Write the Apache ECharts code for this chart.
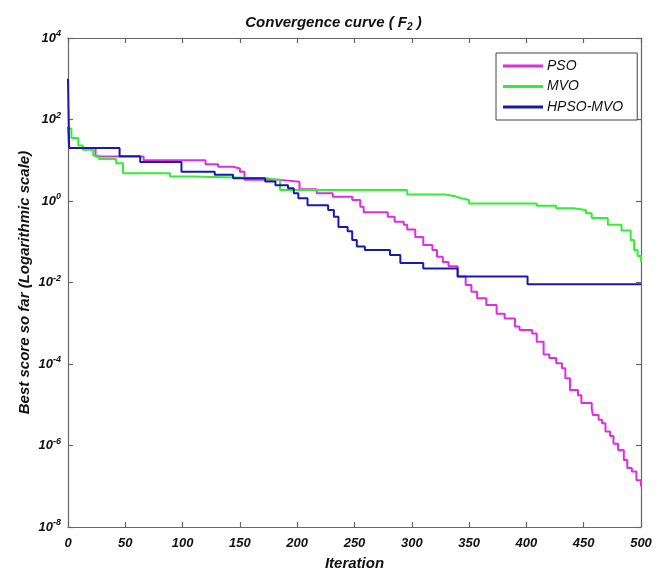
<!DOCTYPE html>
<html>
<head>
<meta charset="utf-8">
<script src="https://cdn.jsdelivr.net/npm/echarts@6/dist/echarts.min.js"></script>
<style>html,body{margin:0;padding:0;background:#fff}#c{width:667px;height:571px}</style>
</head>
<body>
<div id="c"></div>
<script>
// ---- Data ----
const seriesNames = ['PSO', 'MVO', 'HPSO-MVO'];
const xTicks = [0, 50, 100, 150, 200, 250, 300, 350, 400, 450, 500];
const yTickExponents = [-8, -6, -4, -2, 0, 2, 4];

// PSO: breakpoints (iteration where a new best value starts) and values
const psoIter = [0, 1, 24, 66, 120, 131, 144, 150, 154, 185, 202, 217, 231, 248, 255, 258, 279, 285, 293, 296, 303, 310, 318, 322, 327, 332, 340, 347, 352, 357, 365, 374, 381, 390, 394, 405, 409, 415, 420, 426, 431, 434, 438, 445, 448, 457, 458, 463, 466, 469, 473, 476, 480, 485, 488, 492, 496, 500];
const psoVal = [66, 20, 12.3, 10, 8.0, 6.9, 6.3, 5.2, 3.3, 2.95, 1.94, 1.55, 1.27, 1.06, 0.72, 0.53, 0.41, 0.31, 0.26, 0.20, 0.13, 0.083, 0.063, 0.043, 0.032, 0.025, 0.014, 0.0087, 0.0059, 0.0041, 0.0028, 0.0017, 0.0013, 0.00083, 0.00068, 0.00056, 0.00035, 0.00017, 0.00014, 0.000105, 0.000079, 0.000045, 0.000023, 0.000017, 0.000011, 8.1e-6, 5.6e-6, 4.3e-6, 3.5e-6, 2.2e-6, 1.7e-6, 1.1e-6, 7.8e-7, 4.4e-7, 2.8e-7, 2.3e-7, 1.4e-7, 9.8e-8];

const mvoIter = [0, 3, 9, 13, 22, 27, 42, 48, 89, 109, 173, 185, 296, 329, 338, 343, 350, 409, 426, 441, 452, 457, 471, 483, 491, 494, 497, 500];
const mvoVal = [60, 35, 23, 18, 13, 10.7, 8.4, 4.8, 4.0, 3.6, 3.3, 1.86, 1.45, 1.3, 1.17, 1.06, 0.87, 0.76, 0.66, 0.6, 0.5, 0.38, 0.26, 0.19, 0.11, 0.063, 0.045, 0.032];

const hpsoIter = [0, 1, 45, 63, 99, 128, 144, 172, 181, 192, 197, 201, 209, 227, 232, 236, 244, 248, 252, 259, 281, 290, 310, 340, 401, 500];
const hpsoVal = [1000, 20, 12.6, 9.1, 5.2, 4.4, 3.6, 3.0, 2.45, 2.05, 1.55, 1.17, 0.79, 0.6, 0.41, 0.23, 0.18, 0.11, 0.076, 0.063, 0.047, 0.030, 0.022, 0.014, 0.0091, 0.0091];

const colors = ['#dd2fdd', '#33ee33', '#1a1aaa'];

function pairs(xs, ys) { return xs.map((x, i) => [x, ys[i]]); }

const font = 'Liberation Sans, Arial, sans-serif';
const supRich = {
  b: { fontFamily: font, fontSize: 13, fontWeight: 'bold', fontStyle: 'italic', color: '#111' },
  s: { fontFamily: font, fontSize: 9, fontWeight: 'bold', fontStyle: 'italic', color: '#111', padding: [0, 0, 8, 0] }
};

const chart = echarts.init(document.getElementById('c'), null, { renderer: 'canvas' });
const axisLineStyle = { color: '#666', width: 1.2 };

chart.setOption({
  animation: false,
  backgroundColor: '#fff',
  title: {
    text: 'Convergence curve ( F{sub|2} )',
    left: 'center',
    top: 8,
    textStyle: {
      fontFamily: font, fontSize: 15, fontWeight: 'bold', fontStyle: 'italic', color: '#111',
      rich: {
        sub: { fontFamily: font, fontSize: 10, fontWeight: 'bold', fontStyle: 'italic', color: '#111', padding: [9, 0, 0, 0] }
      }
    }
  },
  grid: { left: 68, right: 26, top: 38, bottom: 44, containLabel: false, outerBoundsMode: 'none' },
  legend: {
    data: seriesNames,
    orient: 'vertical',
    left: 496,
    top: 53,
    padding: [6, 14, 6, 7],
    borderColor: '#444',
    borderWidth: 1,
    backgroundColor: '#fff',
    itemWidth: 40,
    itemHeight: 3,
    itemGap: 6.5,
    icon: 'rect',
    textStyle: { fontFamily: font, fontSize: 14, fontStyle: 'italic', color: '#111', padding: [0, 0, 0, -1] }
  },
  xAxis: [{
    type: 'value', min: 0, max: 500, interval: 50,
    name: 'Iteration', nameLocation: 'middle', nameGap: 29,
    nameTextStyle: { fontFamily: font, fontSize: 15, fontWeight: 'bold', fontStyle: 'italic', color: '#111' },
    axisLine: { show: true, lineStyle: axisLineStyle },
    axisTick: { show: true, inside: true, length: 5, lineStyle: axisLineStyle },
    axisLabel: {
      margin: 10, fontFamily: font, fontSize: 13, fontWeight: 'bold', fontStyle: 'italic', color: '#111',
      formatter: v => xTicks.includes(v) ? String(v) : ''
    },
    splitLine: { show: false }
  }, {
    type: 'value', min: 0, max: 500, interval: 50, position: 'top',
    axisLine: { show: true, onZero: false, lineStyle: axisLineStyle },
    axisTick: { show: true, inside: true, length: 5, lineStyle: axisLineStyle },
    axisLabel: { show: false }, splitLine: { show: false }
  }],
  yAxis: [{
    type: 'log', logBase: 100, min: 1e-8, max: 1e4,
    name: 'Best score so far (Logarithmic scale)', nameLocation: 'middle', nameGap: 36, nameMoveOverlap: false,
    nameTextStyle: { fontFamily: font, fontSize: 15, fontWeight: 'bold', fontStyle: 'italic', color: '#111' },
    axisLine: { show: true, lineStyle: axisLineStyle },
    axisTick: { show: true, inside: true, length: 5, lineStyle: axisLineStyle },
    minorTick: { show: false },
    axisLabel: {
      margin: 7,
      formatter: v => {
        const e = Math.round(Math.log10(v));
        return yTickExponents.includes(e) ? '{b|10}{s|' + e + '}' : '';
      },
      rich: supRich
    },
    splitLine: { show: false }
  }, {
    type: 'log', logBase: 100, min: 1e-8, max: 1e4, position: 'right',
    axisLine: { show: true, onZero: false, lineStyle: axisLineStyle },
    axisTick: { show: true, inside: true, length: 5, lineStyle: axisLineStyle },
    axisLabel: { show: false }, splitLine: { show: false }
  }],
  series: [
    { name: seriesNames[0], type: 'line', step: 'end', data: pairs(psoIter, psoVal), showSymbol: false, symbol: 'none', color: colors[0], lineStyle: { width: 2, color: colors[0] }, z: 2 },
    { name: seriesNames[1], type: 'line', step: 'end', data: pairs(mvoIter, mvoVal), showSymbol: false, symbol: 'none', color: colors[1], lineStyle: { width: 2, color: colors[1] }, z: 3 },
    { name: seriesNames[2], type: 'line', step: 'end', data: pairs(hpsoIter, hpsoVal), showSymbol: false, symbol: 'none', color: colors[2], lineStyle: { width: 2, color: colors[2] }, z: 4 }
  ]
});
</script>
</body>
</html>
